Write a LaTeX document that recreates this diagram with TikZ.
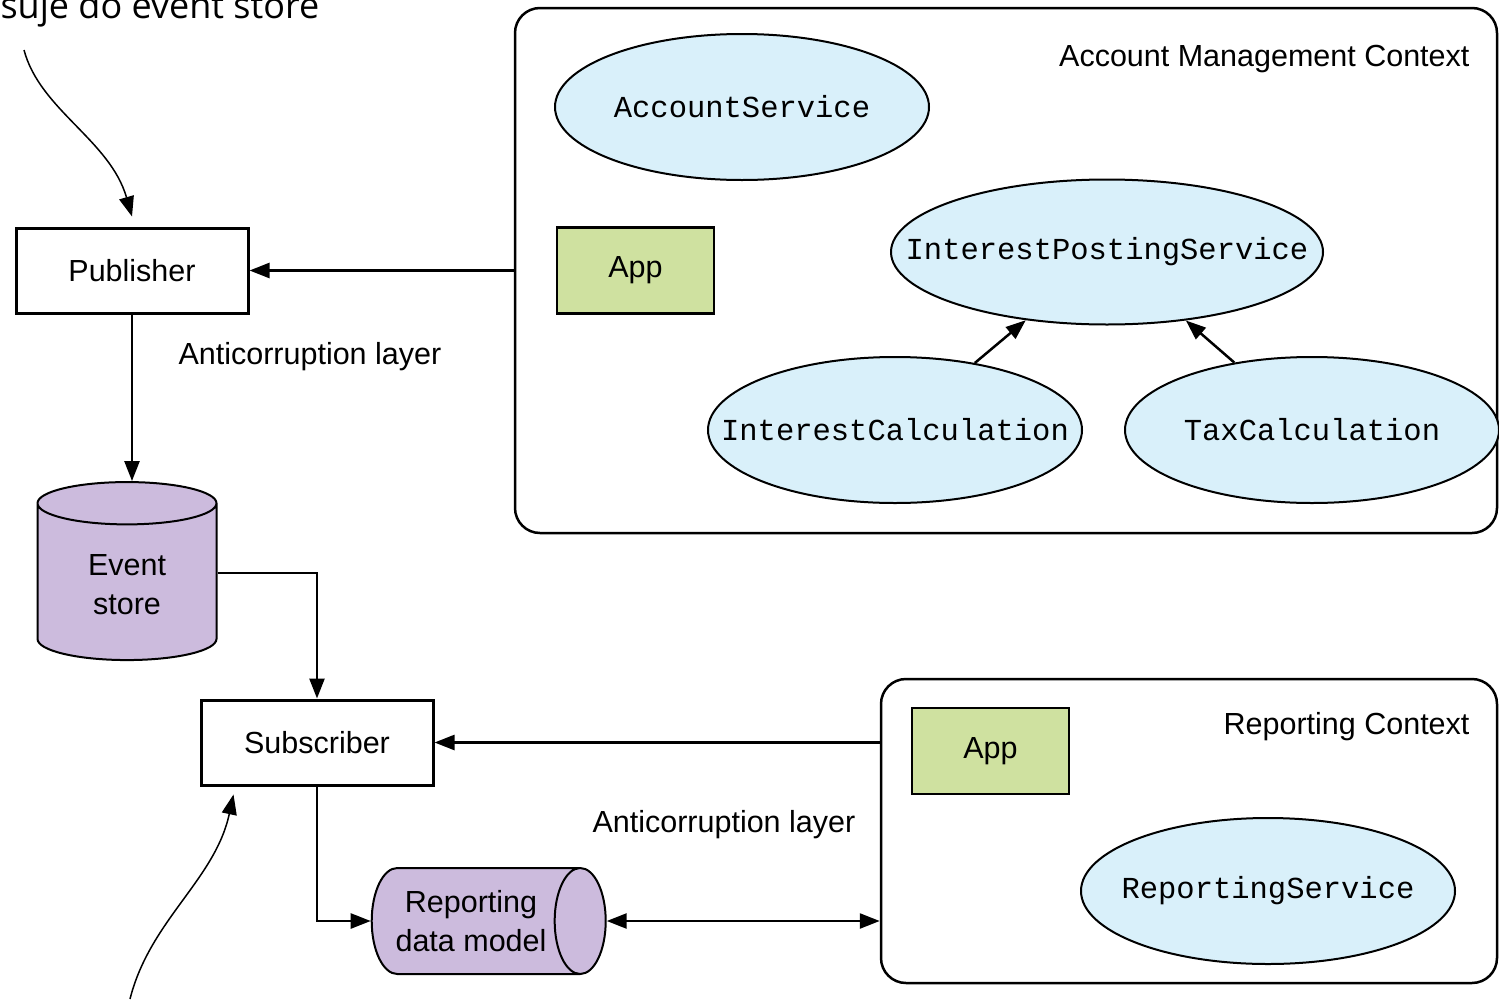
\documentclass[tikz,border=0pt]{standalone}
\usepackage{fontspec}
\setmainfont{Liberation Sans}
\setmonofont{Liberation Mono}
\newfontfamily\notefont{Open Sans}
\usetikzlibrary{arrows.meta,shapes.geometric}

\definecolor{svcblue}{RGB}{217,240,250}
\definecolor{appgreen}{RGB}{207,225,160}
\definecolor{storepurple}{RGB}{204,187,221}
\newcommand\svcname[1]{\makebox[0pt]{#1}}

\begin{document}
\begin{tikzpicture}[x=1pt, y=-1pt,
  every node/.style={font=\fontsize{30.5}{39}\selectfont},
  box/.style={draw, line width=3pt, minimum width=232pt, minimum height=85pt},
  app/.style={draw, line width=2.5pt, fill=appgreen, minimum width=157pt, minimum height=86pt},
  svc/.style={draw, line width=2pt, ellipse, fill=svcblue, inner sep=0pt,
    font=\ttfamily\fontsize{30.5}{36}\selectfont, minimum width=374pt, minimum height=146pt},
  ctx/.style={draw, line width=2.5pt, rounded corners=25pt},
  store/.style={draw, line width=2pt, cylinder, fill=storepurple, align=center},
  flow/.style={line width=2.5pt, -{Triangle[length=20pt,width=15pt]}},
  note/.style={line width=1.5pt, -{Triangle[length=20pt,width=15pt]}}]
\useasboundingbox (0,0) rectangle (1499,999);

% account management side
\node[ctx, minimum width=982pt, minimum height=525pt] (acctx) at (1006,270.5) {};
\node[anchor=east] (actitle) at (1473,59) {Account Management Context};
\node[svc] (accsvc) at (742,107) {\svcname{AccountService}};
\node[app] (acapp) at (635.5,270.5) {App};
\node[svc, minimum width=432pt, minimum height=145pt] (ips) at (1107,252) {\svcname{InterestPostingService}};
\node[svc] (ic) at (895,430) {\svcname{InterestCalculation}};
\node[svc] (tc) at (1312,430) {\svcname{TaxCalculation}};
\draw[flow] (ic) -- (ips);
\draw[flow] (tc) -- (ips);

% publishing
\node[box] (publisher) at (132,270.5) {Publisher};
\node[anchor=west] (acl1) at (175,357) {Anticorruption layer};
\node[store, shape border rotate=90, aspect=0.5, minimum width=179pt, minimum height=178pt] (evstore) at (127,585) {Event\\store};
\draw[flow] (acctx.west) -- (publisher.east);
\draw[flow] (publisher.south) -- (publisher.south |- evstore.north);

% reporting side
\node[box] (subscriber) at (317,742.5) {Subscriber};
\node[ctx, minimum width=616pt, minimum height=304pt] (rpctx) at (1189,831) {};
\node[anchor=east] (rptitle) at (1473,727) {Reporting Context};
\node[app] (rpapp) at (990.5,751) {App};
\node[svc] (rpsvc) at (1268,891) {\svcname{ReportingService}};
\node[anchor=west] (acl2) at (589,825) {Anticorruption layer};
\node[store, aspect=0.75, minimum width=106pt, minimum height=234pt] (rdm) at (471,921) {Reporting\\data model};
\draw[flow] ([yshift=12pt]evstore.east) -| (subscriber.north);
\draw[flow] (rpctx.west |- subscriber.east) -- (subscriber.east);
\draw[flow] (subscriber.south) |- (rdm.west);
\draw[flow, {Triangle[length=20pt,width=15pt]}-{Triangle[length=20pt,width=15pt]}] (rdm.east) -- (rpctx.west |- rdm.east);

% notes
\node[anchor=base west, font=\notefont\fontsize{36}{40}\selectfont] (notetext) at (-3,18) {suje do event store};
\coordinate (notetop) at (24,50);
\coordinate (notebot) at (130,999);
\draw[note] (notetop) .. controls (40,110) and (110,140) .. ([yshift=10pt]publisher.north);
\draw[note] (notebot) .. controls (150,920) and (215,880) .. ([xshift=34pt,yshift=-8pt]subscriber.south west);
\end{tikzpicture}
\end{document}
